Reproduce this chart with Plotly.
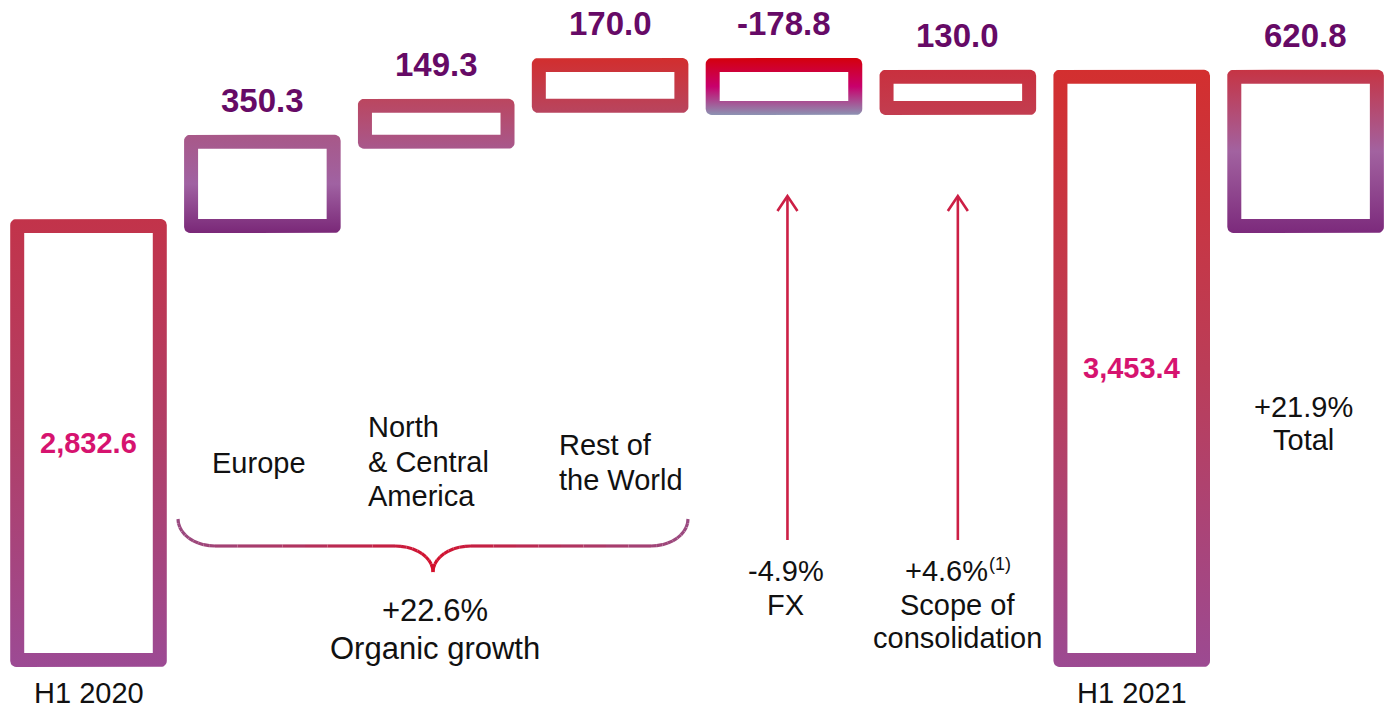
import math
import plotly.graph_objects as go

# ---------------- data ----------------
categories = ["H1 2020", "Europe", "North & Central America", "Rest of the World",
              "FX", "Scope of consolidation", "H1 2021", "Total"]
h1_2020 = 2832.6
bridge_values = [350.3, 149.3, 170.0, -178.8, 130.0]   # Europe, NCA, RoW, FX, Scope
h1_2021 = 3453.4
total_change = 620.8
organic_pct = "+22.6%"
fx_pct = "-4.9%"
scope_pct = "+4.6%"
scope_note = "(1)"
total_pct = "+21.9%"

# ---------------- layout constants ----------------
W, H = 1388, 713
X_RANGE = [-0.509, 7.474]
Y_RANGE = [807.7, 3772.3]
FLOOR = 1028.0          # truncated axis floor where the total bars start
BAR_W = 0.82            # bar width (stroke centre) in category units
STROKE_PX = 14
RADIUS_PX = 6
XPX = (X_RANGE[1] - X_RANGE[0]) / W
YPX = (Y_RANGE[1] - Y_RANGE[0]) / H
FONT = "Liberation Sans, Arial, sans-serif"
TEXT = "#111111"
VALUE_COLOR = "#660a66"
INNER_COLOR = "#d6136f"
ARROW_COLOR = "#cc1f45"

gradients = [
    [[0, "#9c4a94"], [0.5, "#b03f68"], [1, "#c2334a"]],     # H1 2020
    [[0, "#7a2878"], [0.5, "#a062a2"], [1, "#a85888"]],     # Europe
    [[0, "#a8588c"], [1, "#bb465f"]],                       # NCA
    [[0, "#b8455f"], [1, "#d22e2e"]],                       # RoW
    [[0, "#8c93b3"], [0.5, "#c8006c"], [1, "#d4000c"]],     # FX
    [[0, "#c23d50"], [1, "#c9303e"]],                       # Scope
    [[0, "#9c4a92"], [0.5, "#bb3d58"], [1, "#d32f2f"]],     # H1 2021
    [[0, "#7c2a7c"], [0.5, "#a262a0"], [1, "#c63444"]],     # Total
]

# ---------------- bar extents from data ----------------
lows, highs = [FLOOR], [h1_2020]
running = h1_2020
for v in bridge_values:
    lows.append(min(running, running + v))
    highs.append(max(running, running + v))
    running += v
lows.append(FLOOR)
highs.append(h1_2021)
lows.append(h1_2020)
highs.append(h1_2020 + total_change)


def rounded_rect(x0, x1, y0, y1, r_px):
    rx, ry = r_px * XPX, r_px * YPX
    xs, ys = [], []
    corners = [(x1 - rx, y1 - ry, 0), (x0 + rx, y1 - ry, 90),
               (x0 + rx, y0 + ry, 180), (x1 - rx, y0 + ry, 270)]
    for cx, cy, a0 in corners:
        for k in range(7):
            a = math.radians(a0 + 15 * k)
            xs.append(cx + rx * math.cos(a))
            ys.append(cy + ry * math.sin(a))
    xs.append(xs[0]); ys.append(ys[0])
    return xs, ys


fig = go.Figure()
hs_x = STROKE_PX / 2 * XPX
hs_y = STROKE_PX / 2 * YPX
for i, (lo, hi) in enumerate(zip(lows, highs)):
    x0, x1 = i - BAR_W / 2, i + BAR_W / 2
    ox, oy = rounded_rect(x0 - hs_x, x1 + hs_x, lo - hs_y, hi + hs_y, RADIUS_PX)
    fig.add_trace(go.Scatter(
        x=ox, y=oy, mode="lines", fill="toself", line=dict(width=0),
        fillgradient=dict(type="vertical", colorscale=gradients[i]),
        hoverinfo="skip", showlegend=False, name=categories[i]))
    ix0, ix1, iy0, iy1 = x0 + hs_x, x1 - hs_x, lo + hs_y, hi - hs_y
    fig.add_trace(go.Scatter(
        x=[ix0, ix1, ix1, ix0, ix0], y=[iy0, iy0, iy1, iy1, iy0],
        mode="lines", fill="toself", fillcolor="white", line=dict(width=0),
        hoverinfo="skip", showlegend=False))

annotations = []


def px_to_x(px):
    return X_RANGE[0] + px * XPX


def txt(x, py, s, size=29, xanchor="center", color=TEXT, weight="normal", pad=1):
    return dict(x=x, xref="x", y=1 - py / H, yref="paper", text=s, showarrow=False,
                xanchor=xanchor, yanchor="middle", borderpad=pad, borderwidth=0,
                font=dict(family=FONT, size=size, color=color, weight=weight))


# value labels above bridge boxes and total change
changes = bridge_values + [total_change]
for k, v in enumerate(changes):
    i = k + 1 if k < 5 else 7
    annotations.append(dict(x=i, xref="x", y=highs[i], yref="y", yshift=41,
                            text=f"{v:.1f}", showarrow=False, yanchor="middle",
                            font=dict(family=FONT, size=33, color=VALUE_COLOR, weight="bold")))

# inner labels for totals
for i, v in [(0, h1_2020), (6, h1_2021)]:
    annotations.append(dict(x=i, xref="x", y=(FLOOR + v) / 2, yref="y",
                            text=f"{v:,.1f}", showarrow=False, yanchor="middle",
                            font=dict(family=FONT, size=29, color=INNER_COLOR, weight="bold")))

# category labels
annotations.append(txt(0, 693, categories[0]))
annotations.append(txt(6, 693, categories[6]))
annotations.append(txt(0.98, 463, categories[1]))
for line, py in zip(["North", "&amp; Central", "America"], [427, 462, 496]):
    annotations.append(txt(1.602, py, line, xanchor="left"))
for line, py in zip(["Rest of", "the World"], [445, 480]):
    annotations.append(txt(2.70, py, line, xanchor="left"))

# growth descriptions
annotations.append(txt(1.99, 610, organic_pct, size=31))
annotations.append(txt(1.99, 648, "Organic growth", size=31))
annotations.append(txt(4.01, 571, fx_pct))
annotations.append(txt(4.01, 605, "FX"))
annotations.append(txt(px_to_x(988), 571, scope_pct, xanchor="right", pad=0))
annotations.append(txt(px_to_x(989), 564, scope_note, size=18, xanchor="left", pad=0))
annotations.append(txt(5.0, 605, "Scope of"))
annotations.append(txt(5.0, 638, "consolidation"))
annotations.append(txt(6.99, 407, total_pct))
annotations.append(txt(6.99, 440, "Total"))

shapes = []

# arrows (decoration) drawn as line + open chevron
for xi in [4.02, 5.0]:
    px = (xi - X_RANGE[0]) / XPX
    shapes.append(dict(type="line", xref="paper", yref="paper",
                       x0=px / W, x1=px / W, y0=1 - 540 / H, y1=1 - 197 / H,
                       line=dict(color=ARROW_COLOR, width=2.6)))
    path = (f"M {(px - 10) / W},{1 - 211 / H} L {px / W},{1 - 196 / H} "
            f"L {(px + 10) / W},{1 - 211 / H}")
    shapes.append(dict(type="path", xref="paper", yref="paper", path=path,
                       line=dict(color=ARROW_COLOR, width=2.6)))


# brace (decoration) as gradient-coloured segments
def mix(c1, c2, t):
    a = [int(c1[j:j + 2], 16) for j in (1, 3, 5)]
    b = [int(c2[j:j + 2], 16) for j in (1, 3, 5)]
    return "#" + "".join(f"{round(a[j] + (b[j] - a[j]) * t):02x}" for j in range(3))


pts = []
L, R, MID, TOP, HOR, TIP = 178, 688, 433, 519, 546, 572
for k in range(11):
    t = math.pi / 2 * k / 10
    pts.append((L + 37 - 37 * math.cos(t), TOP + (HOR - TOP) * math.sin(t)))
for k in range(1, 9):
    pts.append((L + 37 + (MID - 38 - L - 37) * k / 8, HOR))
for k in range(1, 11):
    t = math.pi / 2 * k / 10
    pts.append((MID - 38 + 38 * math.sin(t), TIP - (TIP - HOR) * math.cos(t)))
scale = (R - MID) / (MID - L)
right = [(MID + (MID - x) * scale, y) for x, y in reversed(pts[:-1])]
pts = pts + right
for (xa, ya), (xb, yb) in zip(pts[:-1], pts[1:]):
    xm = (xa + xb) / 2
    d = abs(xm - MID) / (MID - L if xm < MID else R - MID)
    shapes.append(dict(type="line", xref="paper", yref="paper",
                       x0=xa / W, y0=1 - ya / H, x1=xb / W, y1=1 - yb / H,
                       line=dict(color=mix("#d4102c", "#9a4a80", min(d, 1) ** 0.8), width=3.2)))

fig.update_layout(
    width=W, height=H, margin=dict(l=0, r=0, t=0, b=0),
    paper_bgcolor="white", plot_bgcolor="white",
    xaxis=dict(range=X_RANGE, visible=False, fixedrange=True),
    yaxis=dict(range=Y_RANGE, visible=False, fixedrange=True),
    annotations=annotations, shapes=shapes, showlegend=False,
)

fig.write_html("out.html", config={"displayModeBar": False})
